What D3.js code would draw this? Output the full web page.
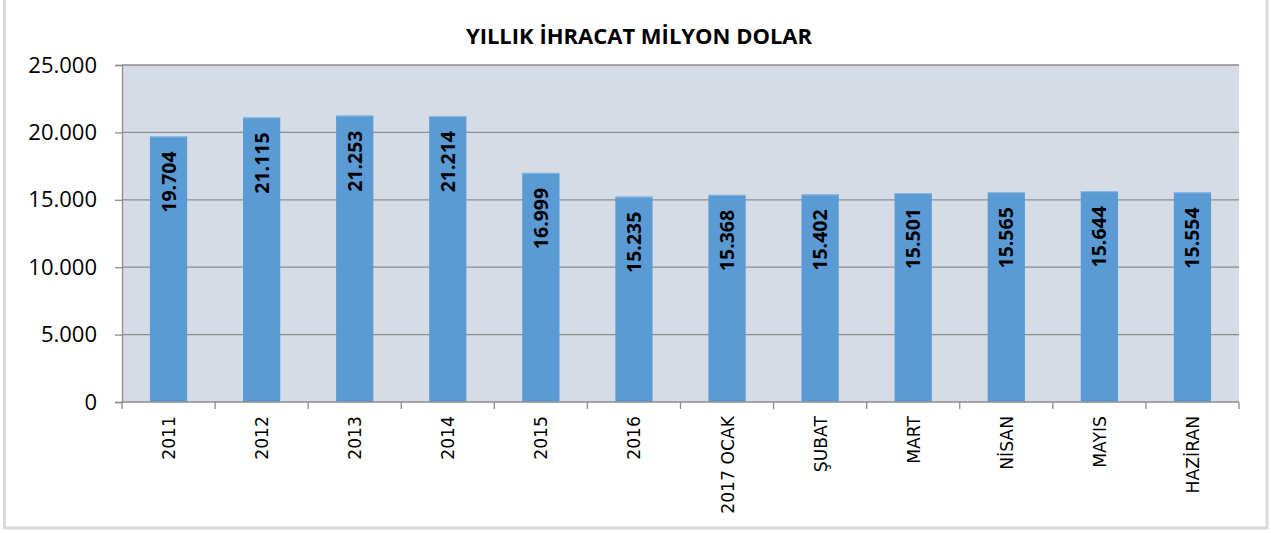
<!DOCTYPE html>
<html>
<head>
<meta charset="UTF-8">
<title>Yillik ihracat</title>
<script src="https://d3js.org/d3.v7.min.js"></script>
<style>
  body { margin: 0; background: #fff; }
</style>
</head>
<body>
<div id="chart"></div>
<script>
// data
var categories = ["2011", "2012", "2013", "2014", "2015", "2016", "2017 OCAK", "ŞUBAT", "MART", "NİSAN", "MAYIS", "HAZİRAN"];
var values = [19704, 21115, 21253, 21214, 16999, 15235, 15368, 15402, 15501, 15565, 15644, 15554];
var yTicks = [0, 5000, 10000, 15000, 20000, 25000];
var title = "YILLIK İHRACAT MİLYON DOLAR";

var W = 1271, H = 533;
var plot = { left: 122, right: 1239, top: 65, bottom: 402 };

var svg = d3.select("#chart").append("svg")
    .attr("width", W).attr("height", H);

// outer frame
svg.append("rect")
    .attr("x", 4.5).attr("y", -5)
    .attr("width", 1262.5).attr("height", 533)
    .attr("fill", "#fff")
    .attr("stroke", "#d9d9d9").attr("stroke-width", 3);

var x = d3.scaleBand().domain(categories)
    .range([plot.left, plot.right]).paddingInner(0.6).paddingOuter(0.3);
var y = d3.scaleLinear().domain([0, 25000]).range([plot.bottom, plot.top]);

// plot background
svg.append("rect")
    .attr("x", plot.left).attr("y", plot.top)
    .attr("width", plot.right - plot.left).attr("height", plot.bottom - plot.top)
    .attr("fill", "#d6dce5");

// gridlines
svg.append("g").selectAll("line")
    .data(yTicks.filter(function (d) { return d > 0; }))
    .enter().append("line")
    .attr("x1", plot.left).attr("x2", plot.right)
    .attr("y1", function (d) { return y(d); }).attr("y2", function (d) { return y(d); })
    .attr("stroke", "#8c8c8c").attr("stroke-width", 1.3);

// bars
svg.append("g").selectAll("rect")
    .data(values)
    .enter().append("rect")
    .attr("x", function (d, i) { return x(categories[i]); })
    .attr("y", function (d) { return y(d); })
    .attr("width", x.bandwidth())
    .attr("height", function (d) { return y(0) - y(d); })
    .attr("fill", "#5b9bd5");

// bar top highlight
svg.append("g").selectAll("line")
    .data(values)
    .enter().append("line")
    .attr("x1", function (d, i) { return x(categories[i]); })
    .attr("x2", function (d, i) { return x(categories[i]) + x.bandwidth(); })
    .attr("y1", function (d) { return y(d) + 0.5; })
    .attr("y2", function (d) { return y(d) + 0.5; })
    .attr("stroke", "#8db9e3").attr("stroke-width", 1);

// value labels inside bars
var fmt = function (v) { return d3.format(",")(v).replace(/,/g, "."); };
svg.append("g").selectAll("text")
    .data(values)
    .enter().append("text")
    .attr("transform", function (d, i) {
        var cx = x(categories[i]) + x.bandwidth() / 2 + 7;
        return "translate(" + cx + "," + (y(d) + 15) + ") rotate(-90)";
    })
    .attr("text-anchor", "end")
    .style("font-family", "'Open Sans', sans-serif")
    .style("font-weight", "bold")
    .style("font-size", "19.5px")
    .attr("fill", "#000")
    .text(fmt);

// y axis
var yAxis = d3.axisLeft(y).tickValues(yTicks).tickSize(7).tickPadding(18)
    .tickFormat(function (d) { return fmt(d); });
var gy = svg.append("g").attr("transform", "translate(" + plot.left + ",0)").call(yAxis);
gy.select(".domain").attr("stroke", "#8c8c8c").attr("stroke-width", 1.3);
gy.selectAll(".tick line").attr("stroke", "#8c8c8c").attr("stroke-width", 1.3);
gy.selectAll(".tick text")
    .style("font-family", "'Open Sans', sans-serif")
    .style("font-size", "22px")
    .attr("fill", "#000");

// x axis: ticks on category boundaries
svg.append("line")
    .attr("x1", plot.left).attr("x2", plot.right)
    .attr("y1", plot.bottom).attr("y2", plot.bottom)
    .attr("stroke", "#8c8c8c").attr("stroke-width", 1.3);
var step = x.step();
svg.append("g").selectAll("line")
    .data(d3.range(categories.length + 1))
    .enter().append("line")
    .attr("x1", function (i) { return plot.left + i * step; })
    .attr("x2", function (i) { return plot.left + i * step; })
    .attr("y1", plot.bottom).attr("y2", plot.bottom + 7)
    .attr("stroke", "#8c8c8c").attr("stroke-width", 1.3);

svg.append("g").selectAll("text")
    .data(categories)
    .enter().append("text")
    .attr("transform", function (d) {
        var cx = x(d) + x.bandwidth() / 2 + 6.5;
        return "translate(" + cx + "," + (plot.bottom + 14) + ") rotate(-90)";
    })
    .attr("text-anchor", "end")
    .style("font-family", "'DejaVu Sans', sans-serif")
    .style("font-size", "17.2px")
    .attr("fill", "#000")
    .text(function (d) { return d; });

// title
svg.append("text")
    .attr("x", 639).attr("y", 44)
    .attr("text-anchor", "middle")
    .style("font-family", "'Open Sans', sans-serif")
    .style("font-weight", "bold")
    .style("font-size", "22px")
    .attr("fill", "#000")
    .text(title);
</script>
</body>
</html>
